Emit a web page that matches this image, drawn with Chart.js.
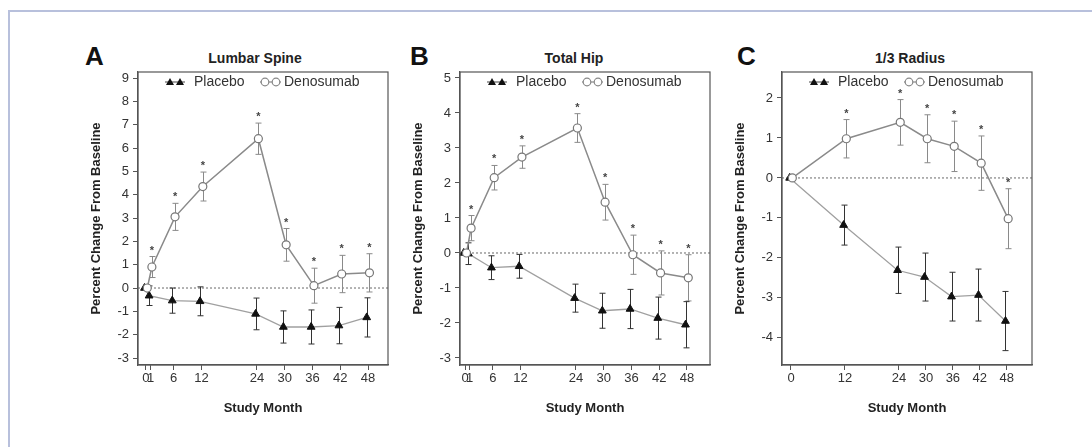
<!DOCTYPE html>
<html>
<head>
<meta charset="utf-8">
<script src="https://cdn.jsdelivr.net/npm/chart.js@4.4.0/dist/chart.umd.min.js"></script>
<style>
  body { margin: 0; background: #fff; width: 1092px; height: 447px; overflow: hidden; position: relative; font-family: "Liberation Sans", Arial, sans-serif; }
  .frame { position: absolute; left: 8px; top: 10px; width: 1200px; height: 600px; border: 2.5px solid #b8c0dc; }
  canvas { position: absolute; top: 30px; }
  .letter { position: absolute; top: 43px; font-size: 26px; font-weight: bold; line-height: 1; color: #111; }
  .ptitle { position: absolute; top: 51px; font-size: 14px; font-weight: bold; line-height: 1; color: #222; transform: translateX(-50%); white-space: nowrap; }
</style>
</head>
<body>
<div class="frame"></div>

<div class="letter" style="left:85px">A</div>
<div class="ptitle" style="left:255px">Lumbar Spine</div>
<canvas id="spineChart" width="310" height="400" style="left:85px"></canvas>

<div class="letter" style="left:410px">B</div>
<div class="ptitle" style="left:574px">Total Hip</div>
<canvas id="hipChart" width="310" height="400" style="left:407px"></canvas>

<div class="letter" style="left:737px">C</div>
<div class="ptitle" style="left:910px">1/3 Radius</div>
<canvas id="radiusChart" width="310" height="400" style="left:729px"></canvas>

<script>
// A - lumbar spine
const spineMonths = [0, 1, 6, 12, 24, 30, 36, 42, 48];
const spinePlacebo = [0, -0.33, -0.54, -0.57, -1.11, -1.67, -1.67, -1.61, -1.26];
const spinePlaceboSE = [0, 0.42, 0.54, 0.62, 0.68, 0.69, 0.73, 0.78, 0.84];
const spineDeno = [0, 0.9, 3.05, 4.35, 6.4, 1.85, 0.1, 0.6, 0.65];
const spineDenoSE = [0, 0.45, 0.58, 0.62, 0.67, 0.7, 0.75, 0.8, 0.82];
const spineStars = [0, 1, 1, 1, 1, 1, 1, 1, 1];
const spineYTicks = [-3, -2, -1, 0, 1, 2, 3, 4, 5, 6, 7, 8, 9];

// B - total hip
const hipMonths = [0, 1, 6, 12, 24, 30, 36, 42, 48];
const hipPlacebo = [0, -0.02, -0.42, -0.38, -1.29, -1.65, -1.6, -1.86, -2.05];
const hipPlaceboSE = [0, 0.31, 0.34, 0.34, 0.4, 0.5, 0.56, 0.6, 0.66];
const hipDeno = [0, 0.71, 2.15, 2.74, 3.57, 1.45, -0.05, -0.57, -0.71];
const hipDenoSE = [0, 0.36, 0.35, 0.32, 0.41, 0.51, 0.56, 0.63, 0.66];
const hipStars = [0, 1, 1, 1, 1, 1, 1, 1, 1];
const hipYTicks = [-3, -2, -1, 0, 1, 2, 3, 4, 5];

// C - 1/3 radius
const radiusMonths = [0, 12, 24, 30, 36, 42, 48];
const radiusPlacebo = [0, -1.18, -2.31, -2.48, -2.97, -2.93, -3.58];
const radiusPlaceboSE = [0, 0.5, 0.58, 0.6, 0.61, 0.65, 0.74];
const radiusDeno = [0, 0.98, 1.39, 0.98, 0.79, 0.37, -1.02];
const radiusDenoSE = [0, 0.48, 0.57, 0.6, 0.63, 0.68, 0.75];
const radiusStars = [0, 1, 1, 1, 1, 1, 1];
const radiusYTicks = [-4, -3, -2, -1, 0, 1, 2];

const FONT = '"Liberation Sans", Arial, sans-serif';
const DODGE = 0.3; // placebo a bit left, denosumab a bit right

// zero line, error bars, frame, asterisks and the in-plot legend
const panelDeco = {
  id: 'panelDeco',
  beforeDatasetsDraw(chart) {
    const { ctx, chartArea: a, scales: { x, y } } = chart;
    ctx.save();
    const y0 = y.getPixelForValue(0);
    ctx.strokeStyle = '#9b9b9b';
    ctx.lineWidth = 1.5;
    ctx.setLineDash([2, 2]);
    ctx.beginPath();
    ctx.moveTo(a.left, y0);
    ctx.lineTo(a.right, y0);
    ctx.stroke();
    ctx.setLineDash([]);

    chart.data.datasets.forEach(ds => {
      ctx.strokeStyle = ds.errColor;
      ctx.lineWidth = 1;
      ds.data.forEach((pt, i) => {
        const e = ds.err[i];
        if (!e) return;
        const px = Math.round(x.getPixelForValue(pt.x)) + 0.5;
        const hi = y.getPixelForValue(pt.y + e);
        const lo = y.getPixelForValue(pt.y - e);
        ctx.beginPath();
        ctx.moveTo(px, hi); ctx.lineTo(px, lo);
        ctx.moveTo(px - 3, hi); ctx.lineTo(px + 3, hi);
        ctx.moveTo(px - 3, lo); ctx.lineTo(px + 3, lo);
        ctx.stroke();
      });
    });
    ctx.restore();
  },
  afterDatasetsDraw(chart) {
    const { ctx, chartArea: a, scales: { x, y } } = chart;
    ctx.save();
    ctx.strokeStyle = '#555';
    ctx.lineWidth = 1.2;
    ctx.strokeRect(a.left, a.top, a.right - a.left, a.bottom - a.top);

    // asterisks over the denosumab bars
    const deno = chart.data.datasets[0];
    ctx.fillStyle = '#444';
    ctx.font = 'bold 11px ' + FONT;
    ctx.textAlign = 'center';
    ctx.textBaseline = 'middle';
    deno.data.forEach((pt, i) => {
      if (!deno.stars[i]) return;
      const px = x.getPixelForValue(pt.x);
      const hi = y.getPixelForValue(pt.y + deno.err[i]);
      ctx.fillText('*', px, hi - 6);
    });

    // legend
    const lx = a.left + 27, ly = a.top + 10;
    ctx.lineWidth = 1.2;
    ctx.strokeStyle = '#666';
    ctx.beginPath(); ctx.moveTo(lx, ly); ctx.lineTo(lx + 20, ly); ctx.stroke();
    ctx.fillStyle = '#111';
    [lx + 5, lx + 15].forEach(cx => {
      ctx.beginPath();
      ctx.moveTo(cx, ly - 4); ctx.lineTo(cx + 4, ly + 3); ctx.lineTo(cx - 4, ly + 3);
      ctx.closePath(); ctx.fill();
    });
    ctx.strokeStyle = '#888';
    ctx.beginPath(); ctx.moveTo(lx + 95, ly); ctx.lineTo(lx + 116, ly); ctx.stroke();
    [lx + 100, lx + 111].forEach(cx => {
      ctx.beginPath(); ctx.arc(cx, ly, 3.8, 0, Math.PI * 2);
      ctx.fillStyle = '#fff'; ctx.fill(); ctx.stroke();
    });
    ctx.fillStyle = '#333';
    ctx.font = '14px ' + FONT;
    ctx.textAlign = 'left';
    ctx.textBaseline = 'middle';
    ctx.fillText('Placebo', lx + 29, ly);
    ctx.fillText('Denosumab', lx + 119, ly);
    ctx.restore();
  }
};

function drawPanel(id, p) {
  const tickFont = { family: FONT, size: 13 };
  const titleFont = { family: FONT, size: 13, weight: 'bold' };
  new Chart(document.getElementById(id), {
    type: 'line',
    data: {
      datasets: [
        {
          label: 'Denosumab',
          order: 0,
          data: p.months.map((m, i) => ({ x: m + DODGE, y: p.deno[i] })),
          borderColor: '#8a8a8a',
          borderWidth: 1.5,
          pointStyle: 'circle',
          pointRadius: 4,
          pointBorderWidth: 1.2,
          pointBackgroundColor: '#fff',
          pointBorderColor: '#777',
          err: p.denoSE,
          errColor: '#8a8a8a',
          stars: p.stars
        },
        {
          label: 'Placebo',
          order: 1,
          data: p.months.map((m, i) => ({ x: m - DODGE, y: p.placebo[i] })),
          borderColor: '#a0a0a0',
          borderWidth: 1.3,
          pointStyle: 'triangle',
          pointRadius: 4.5,
          pointBackgroundColor: '#111',
          pointBorderColor: '#111',
          pointBorderWidth: 1,
          err: p.placeboSE,
          errColor: '#333'
        }
      ]
    },
    options: {
      responsive: false,
      animation: false,
      devicePixelRatio: 1,
      layout: { padding: { top: 42, right: 7, left: 0, bottom: 0 } },
      plugins: { legend: { display: false }, tooltip: { enabled: false } },
      scales: {
        x: {
          type: 'linear',
          min: p.xMin,
          max: p.xMax,
          afterBuildTicks: s => { s.ticks = p.months.map(v => ({ value: v })); },
          afterFit: s => { s.height = 65; },
          ticks: { font: tickFont, color: '#333', padding: 1, autoSkip: false, maxRotation: 0, callback: v => String(v) },
          grid: { drawOnChartArea: false, drawTicks: true, tickLength: 5, color: '#555' },
          border: { display: true, color: '#555', width: 1.2 },
          title: { display: true, text: 'Study Month', font: titleFont, color: '#222', padding: { top: 0, bottom: 14 } }
        },
        y: {
          min: p.yMin,
          max: p.yMax,
          afterBuildTicks: s => { s.ticks = p.yTicks.map(v => ({ value: v })); },
          afterFit: s => { s.width = 53; },
          ticks: { font: tickFont, color: '#333', padding: 4, callback: v => String(v) },
          grid: { drawOnChartArea: false, drawTicks: true, tickLength: 5, color: '#555' },
          border: { display: true, color: '#555', width: 1.2 },
          title: { display: true, text: 'Percent Change From Baseline', font: titleFont, color: '#222', padding: { top: 4, bottom: 0 } }
        }
      }
    },
    plugins: [panelDeco]
  });
}

drawPanel('spineChart', {
  months: spineMonths, placebo: spinePlacebo, placeboSE: spinePlaceboSE,
  deno: spineDeno, denoSE: spineDenoSE, stars: spineStars, yTicks: spineYTicks,
  xMin: -1.7, xMax: 52.3, yMin: -3.3, yMax: 9.26
});
drawPanel('hipChart', {
  months: hipMonths, placebo: hipPlacebo, placeboSE: hipPlaceboSE,
  deno: hipDeno, denoSE: hipDenoSE, stars: hipStars, yTicks: hipYTicks,
  xMin: -1.1, xMax: 53, yMin: -3.2, yMax: 5.17
});
drawPanel('radiusChart', {
  months: radiusMonths, placebo: radiusPlacebo, placeboSE: radiusPlaceboSE,
  deno: radiusDeno, denoSE: radiusDenoSE, stars: radiusStars, yTicks: radiusYTicks,
  xMin: -2, xMax: 53.6, yMin: -4.68, yMax: 2.65
});
</script>
</body>
</html>
